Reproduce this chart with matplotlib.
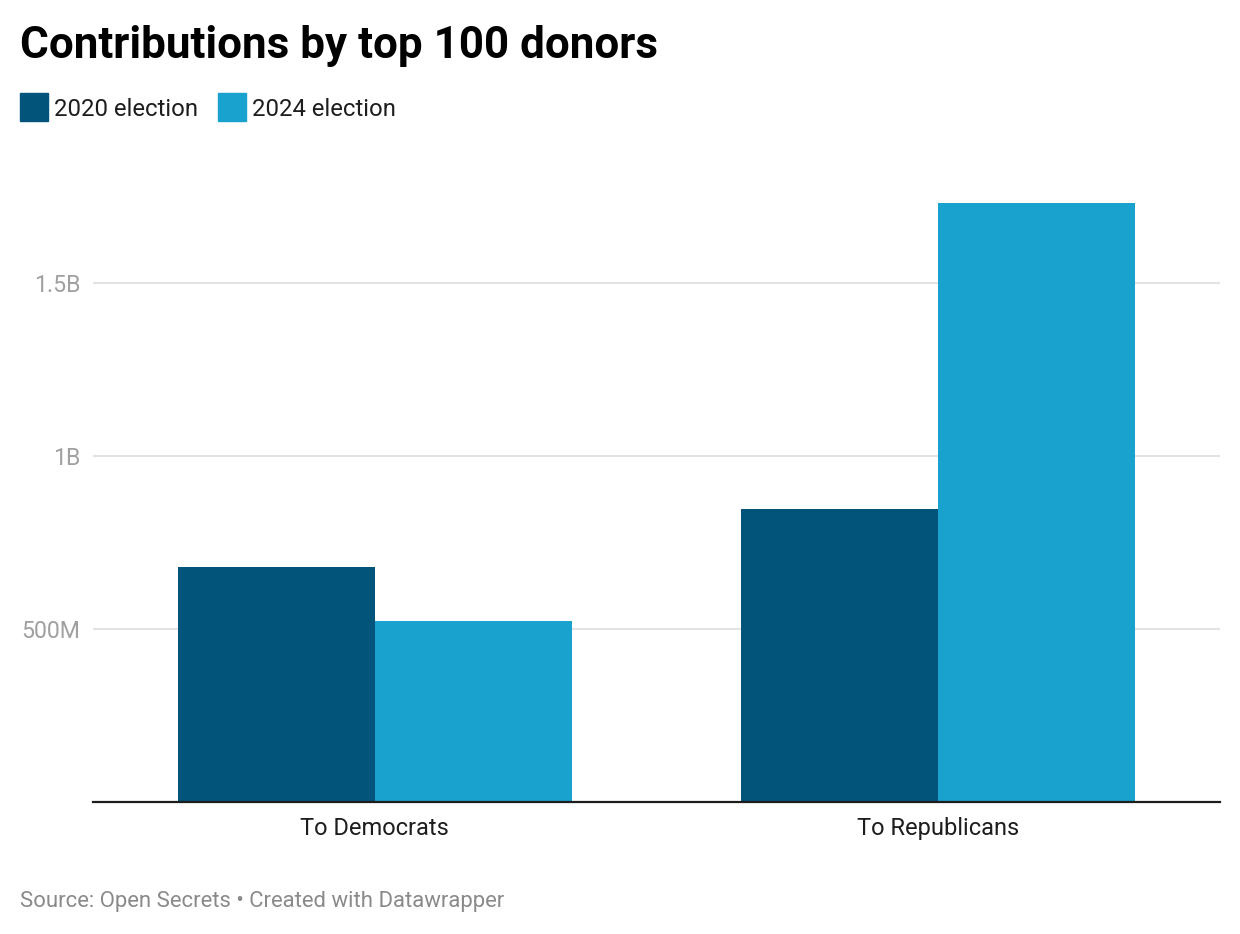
import matplotlib.pyplot as plt
import numpy as np
from matplotlib.patches import Rectangle

plt.rcParams['font.family'] = ['Roboto', 'DejaVu Sans']

categories = ['To Democrats', 'To Republicans']
series_names = ['2020 election', '2024 election']
values_2020 = [680e6, 847e6]
values_2024 = [523e6, 1731e6]
colors = ['#03547b', '#19a2ce']
tick_vals = [500e6, 1e9, 1.5e9]
tick_labels = ['500M', '1B', '1.5B']

W, H = 1240, 934
fig = plt.figure(figsize=(W / 100, H / 100), dpi=100)

# axes in pixel coords: left 93, right 1220, bottom 802, top 195
ax = fig.add_axes([93 / W, 1 - 802 / H, (1220 - 93) / W, (802 - 195) / H])

x = np.arange(len(categories))
w = 0.35
ax.bar(x - w / 2, values_2020, w, color=colors[0], zorder=3)
ax.bar(x + w / 2, values_2024, w, color=colors[1], zorder=3)

ax.set_xlim(-0.5, 1.5)
ax.set_ylim(0, 1754e6)
ax.set_yticks(tick_vals)
ax.set_yticklabels(tick_labels)
ax.set_xticks(x)
ax.set_xticklabels(categories)
ax.grid(axis='y', color='#e3e3e3', linewidth=1.5, zorder=0)
ax.tick_params(axis='y', length=0, pad=9, labelsize=16.7, labelcolor='#a0a0a0')
ax.tick_params(axis='x', length=0, pad=11, labelsize=17, labelcolor='#1d1d1d')
for s in ['top', 'right', 'left']:
    ax.spines[s].set_visible(False)
ax.spines['bottom'].set_color('#1d1d1d')
ax.spines['bottom'].set_linewidth(1.6)
ax.spines['bottom'].set_zorder(4)

fig.text(20 / W, 1 - 46 / H, 'Contributions by top 100 donors', fontsize=31.7,
         fontweight='bold', color='#000000', va='center', ha='left')

# legend
lx = [20, 218]
for i, name in enumerate(series_names):
    fig.patches.append(Rectangle((lx[i] / W, 1 - 121 / H), 28 / W, 28 / H,
                                 transform=fig.transFigure, color=colors[i]))
    fig.text((lx[i] + 34) / W, 1 - 109.5 / H, name, fontsize=17.2,
             color='#1d1d1d', va='center', ha='left')

fig.text(20 / W, 1 - 901 / H, 'Source: Open Secrets \u2022 Created with Datawrapper',
         fontsize=15.9, color='#8a8a8a', va='center', ha='left')

fig.savefig('out.png', dpi=100, facecolor='white')
